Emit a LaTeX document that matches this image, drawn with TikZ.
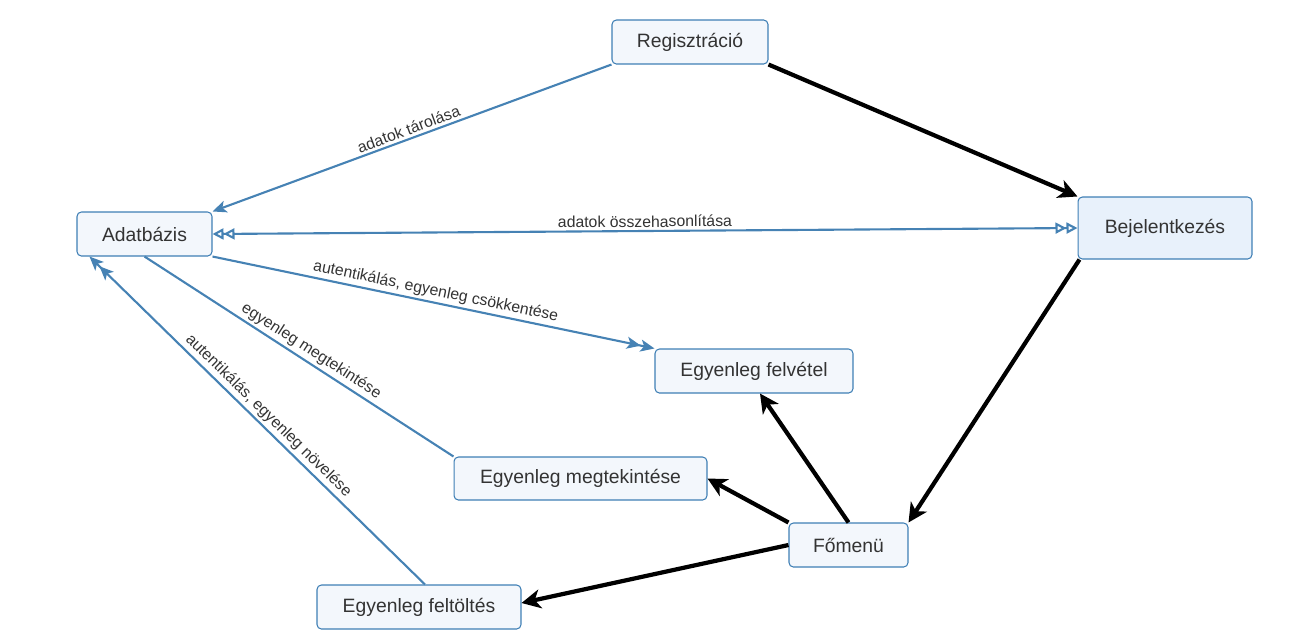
\documentclass[tikz,border=0pt]{standalone}
\usepackage{fontspec}
\setmainfont{Liberation Sans}
\usetikzlibrary{arrows.meta,calc}
\definecolor{edgeblue}{HTML}{4682B4}
\definecolor{boxline}{HTML}{3F7FB5}
\definecolor{boxfill}{HTML}{F3F7FC}
\definecolor{boxfillb}{HTML}{E8F1FB}
\definecolor{txt}{HTML}{333333}
\tikzset{
  box/.style={draw=boxline, line width=0.6pt, fill=boxfill, rounded corners=2.5pt,
    inner sep=0pt, text=txt, font=\fontsize{11}{13}\selectfont},
  flow/.style={line width=2.4pt, black, -{Stealth[length=0.38cm,width=0.38cm,inset=0.11cm]}},
  link/.style={line width=1.2pt, edgeblue},
  lab/.style={sloped, above, inner sep=1.5pt, text=txt, font=\fontsize{9}{11}\selectfont},
  bt/.tip={Stealth[length=0.28cm,width=0.24cm,inset=0.07cm]},
  ot/.tip={Triangle[open,length=0.22cm,width=0.22cm,fill=white]}
}
\begin{document}
\begin{tikzpicture}[x=0.02cm,y=-0.02cm]
\useasboundingbox (0,0) rectangle (1295,643);
\node[box, minimum width=3.12cm, minimum height=0.88cm] (reg) at (690,42) {Regisztráció};
\node[box, minimum width=2.70cm, minimum height=0.88cm] (adat) at (144.5,234) {Adatbázis};
\node[box, fill=boxfillb, minimum width=3.48cm, minimum height=1.24cm] (bej) at (1165,228) {Bejelentkezés};
\node[box, minimum width=3.96cm, minimum height=0.88cm] (felv) at (754,371) {Egyenleg felvétel};
\node[box, minimum width=5.06cm, minimum height=0.86cm] (megt) at (580.5,478.5) {Egyenleg megtekintése};
\node[box, minimum width=2.38cm, minimum height=0.88cm] (fo) at (848.5,545) {Főmenü};
\node[box, minimum width=4.08cm, minimum height=0.88cm] (felt) at (419,607) {Egyenleg feltöltés};

% blue links
\draw[link, -{bt}] (reg.south west) -- node[lab, pos=0.5]{adatok tárolása} (adat.north east);
\draw[link, {ot[]ot}-{ot[]ot}] (adat.east) -- node[lab, pos=0.5]{adatok összehasonlítása} (bej.west);
\draw[link, -{bt[]bt}] (adat.south east) -- node[lab, pos=0.5]{autentikálás, egyenleg csökkentése} (felv.north west);
\draw[link] (adat.south) -- node[lab, pos=0.52]{egyenleg megtekintése} (megt.north west);
\draw[link, {bt[]bt}-] ([xshift=0.26cm]adat.south west) -- node[lab, pos=0.51]{autentikálás, egyenleg növelése} ([xshift=0.12cm]felt.north);

% black flow
\draw[flow] (reg.south east) -- (bej.north west);
\draw[flow] ([xshift=0.04cm]bej.south west) -- (fo.north east);
\draw[flow] (fo.north) -- ([xshift=0.12cm]felv.south);
\draw[flow] (fo.north west) -- (megt.east);
\draw[flow] (fo.west) -- ([yshift=0.08cm]felt.east);
\end{tikzpicture}
\end{document}
